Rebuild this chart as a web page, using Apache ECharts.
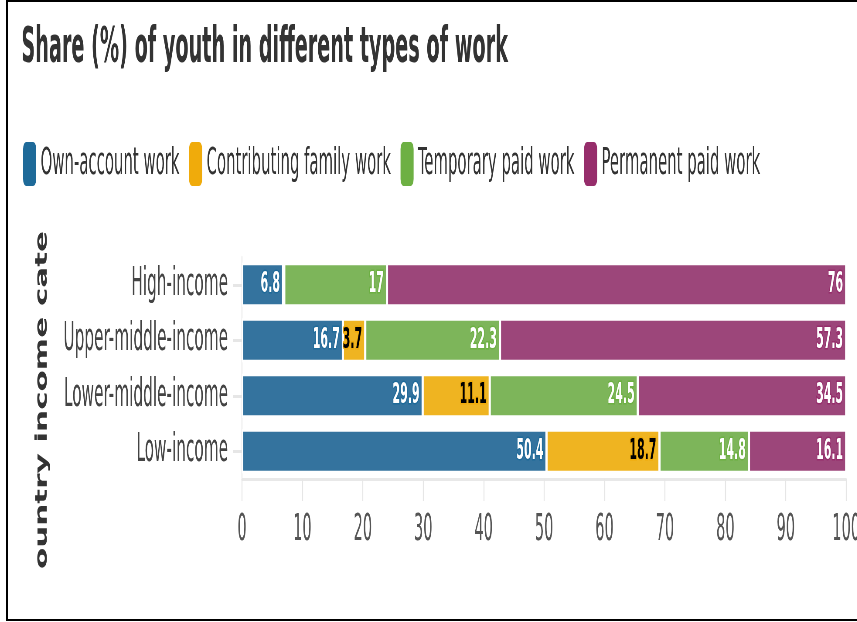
<!DOCTYPE html>
<html>
<head>
<meta charset="utf-8">
<script src="https://cdn.jsdelivr.net/npm/echarts@6/dist/echarts.min.js"></script>
<style>
html,body{margin:0;padding:0;background:#fff;overflow:hidden;width:857px;height:622px;}
#chart{position:absolute;left:0;top:0;width:1966px;height:622px;transform:scaleX(0.436);transform-origin:0 0;}
#frame{position:absolute;left:6px;top:0px;width:900px;height:617px;border:2px solid #000;pointer-events:none;}
</style>
</head>
<body>
<div id="chart"></div>
<div id="frame"></div>
<script>
var categories = ["High-income", "Upper-middle-income", "Lower-middle-income", "Low-income"];
var seriesNames = ["Own-account work", "Contributing family work", "Temporary paid work", "Permanent paid work"];
var ownAccount = [6.8, 16.7, 29.9, 50.4];
var contributingFamily = [0.2, 3.7, 11.1, 18.7];
var temporaryPaid = [17, 22.3, 24.5, 14.8];
var permanentPaid = [76, 57.3, 34.5, 16.1];
var xTicks = [0, 10, 20, 30, 40, 50, 60, 70, 80, 90, 100];
var titleText = "Share (%) of youth in different types of work";
var yAxisName = "ountry income cate";

var barColors = ["#34739e", "#efb421", "#7db55a", "#9c467a"];
var iconColors = ["#1e6a99", "#f0ab0b", "#6db043", "#962d6b"];
var labelColors = ["#fff", "#000", "#fff", "#fff"];
var values = [ownAccount, contributingFamily, temporaryPaid, permanentPaid];
var narrow = '"DejaVu Sans Condensed", "DejaVu Sans", sans-serif';

var chart = echarts.init(document.getElementById('chart'), null, {renderer: 'canvas'});
var series = seriesNames.map(function (name, i) {
  return {
    name: name,
    type: 'bar',
    stack: 'total',
    barCategoryGap: '21%',
    data: values[i],
    itemStyle: {color: barColors[i], borderColor: '#fff', borderWidth: 2.5},
    emphasis: {disabled: true},
    label: {
      show: true,
      position: 'insideRight',
      distance: 7,
      fontFamily: narrow,
      fontWeight: 'bold',
      fontSize: 28,
      color: labelColors[i],
      textBorderColor: iconColors[i],
      textBorderWidth: 3,
      formatter: function (p) { return p.value >= 1 ? String(p.value) : ''; }
    }
  };
});

chart.setOption({
  animation: false,
  title: {
    text: titleText,
    left: 44,
    top: 20,
    textStyle: {fontFamily: narrow, fontWeight: 'bold', fontSize: 49, color: '#333'}
  },
  legend: {
    left: 46,
    top: 135,
    itemWidth: 32,
    itemHeight: 46,
    itemGap: 20,
    icon: 'roundRect',
    selectedMode: false,
    textStyle: {fontFamily: narrow, fontSize: 38, color: '#333', padding: [0, 0, 0, 4]},
    data: seriesNames.map(function (n, i) { return {name: n, itemStyle: {color: iconColors[i]}}; })
  },
  graphic: [{
    type: 'text',
    x: 97,
    y: 400,
    rotation: Math.PI / 2,
    scaleY: 1.215,
    style: {
      text: yAxisName,
      fontFamily: '"DejaVu Sans", sans-serif',
      fontWeight: 'bold',
      fontSize: 31,
      fill: '#333',
      align: 'center',
      verticalAlign: 'middle'
    }
  }],
  grid: {left: 555, right: 25.2, top: 257, bottom: 143, containLabel: false, outerBoundsMode: 'none'},
  xAxis: {
    type: 'value',
    min: 0,
    max: 100,
    interval: 10,
    axisLine: {show: true, lineStyle: {color: '#e8e8e8', width: 3}},
    axisTick: {show: true, length: 22, lineStyle: {color: '#e6e6e6', width: 2.3}},
    splitLine: {show: false},
    axisLabel: {
      margin: 33,
      fontFamily: narrow,
      fontSize: 37,
      color: '#555',
      formatter: function (v) { return xTicks.indexOf(v) >= 0 ? String(v) : ''; }
    }
  },
  yAxis: {
    type: 'category',
    inverse: true,
    data: categories,
    axisLine: {show: true, lineStyle: {color: '#e8e8e8', width: 2.3}},
    axisTick: {show: true, length: 20, alignWithLabel: true, lineStyle: {color: '#e6e6e6', width: 3}},
    axisLabel: {margin: 32, fontFamily: narrow, fontSize: 39, color: '#444'}
  },
  series: series
});
</script>
</body>
</html>
